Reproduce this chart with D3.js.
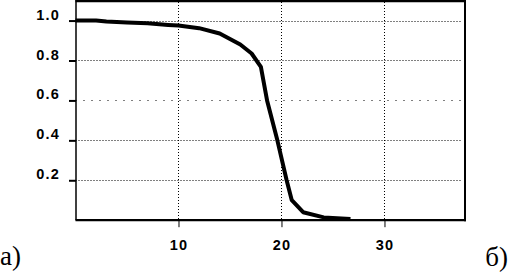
<!DOCTYPE html>
<html>
<head>
<meta charset="utf-8">
<script src="https://cdn.jsdelivr.net/npm/d3@7"></script>
<style>
  html, body { margin: 0; padding: 0; background: #fff; }
  svg { display: block; }
</style>
</head>
<body>
<svg id="chart" width="508" height="273"></svg>
<script>
// ---- data ----
const xValues = [0, 2, 3, 5, 7, 9, 10, 12, 14, 16, 17.1, 18.0, 18.6, 19.6, 20.5, 21.0, 22.1, 24.1, 26.7];
const yValues = [1.0, 1.0, 0.995, 0.99, 0.986, 0.978, 0.975, 0.962, 0.935, 0.88, 0.835, 0.768, 0.6, 0.4, 0.2, 0.10, 0.04, 0.014, 0.006];
const xTicks = [10, 20, 30];
const yTicks = [0.2, 0.4, 0.6, 0.8, 1.0];
const yTickLabels = ["0.2", "0.4", "0.6", "0.8", "1.0"];
const panelLabels = ["а)", "б)"];

// ---- layout ----
const svg = d3.select("#chart");
const x = d3.scaleLinear().domain([0, 37.77]).range([75.5, 464.5]);
const y = d3.scaleLinear().domain([0, 1.1]).range([220.2, 0.6]);

const X0 = x.range()[0], X1 = x.range()[1];
const Y0 = y.range()[0];

// grid
const grid = svg.append("g").attr("stroke", "#000").attr("stroke-width", 1);
grid.selectAll("line.h").data(yTicks).enter().append("line")
  .attr("x1", X0).attr("x2", X1 - 2)
  .attr("y1", d => Math.round(y(d)) + 0.5).attr("y2", d => Math.round(y(d)) + 0.5)
  .attr("stroke-dasharray", d => d === 0.6 ? "1,7" : "1,2");
grid.selectAll("line.v").data(xTicks).enter().append("line")
  .attr("x1", d => Math.round(x(d)) + 0.5).attr("x2", d => Math.round(x(d)) + 0.5)
  .attr("y1", 2).attr("y2", Y0)
  .attr("stroke-dasharray", "1,2");

// axes
const yAxis = d3.axisLeft(y).tickValues(yTicks).tickSize(7).tickPadding(9)
  .tickFormat((d, i) => yTickLabels[i]);
const gy = svg.append("g").attr("transform", `translate(${X0 + 0.5},0)`).call(yAxis);
gy.select(".domain").remove();
gy.selectAll(".tick line").attr("stroke-width", 2);
gy.selectAll(".tick text").attr("dy", "-0.1em");

const xAxis = d3.axisBottom(x).tickValues(xTicks).tickSize(7).tickPadding(13)
  .tickFormat(d3.format("d"));
const gx = svg.append("g").attr("transform", `translate(0,${Y0})`).call(xAxis);
gx.select(".domain").remove();

svg.selectAll(".tick text")
  .attr("font-family", "'Liberation Sans', Arial, sans-serif")
  .attr("font-weight", "bold")
  .attr("font-size", 14.5)
  .attr("letter-spacing", "1.2px")
  .attr("fill", "#000");

// frame
const frame = svg.append("g").attr("stroke", "#000").attr("fill", "none");
frame.append("line").attr("x1", X0).attr("x2", X1 + 1.5).attr("y1", 1).attr("y2", 1).attr("stroke-width", 2.5);
frame.append("line").attr("x1", 76).attr("x2", 76).attr("y1", 0).attr("y2", Y0).attr("stroke-width", 1.5);
frame.append("line").attr("x1", X1 + 0.5).attr("x2", X1 + 0.5).attr("y1", 0).attr("y2", Y0 + 1).attr("stroke-width", 2);
frame.append("line").attr("x1", X0).attr("x2", X1 + 1.5).attr("y1", Y0).attr("y2", Y0).attr("stroke-width", 2.2);

// curve
const pts = xValues.map((v, i) => [v, yValues[i]]);
svg.append("path")
  .datum(pts)
  .attr("fill", "none")
  .attr("stroke", "#000")
  .attr("stroke-width", 4)
  .attr("stroke-linejoin", "round")
  .attr("d", d3.line().x(d => x(d[0])).y(d => y(d[1])));

// panel labels
svg.append("text").attr("x", 0).attr("y", 265)
  .attr("font-family", "'Liberation Serif', 'Times New Roman', serif")
  .attr("font-size", 27).attr("fill", "#000").text(panelLabels[0]);
svg.append("text").attr("x", 508).attr("y", 266).attr("text-anchor", "end")
  .attr("font-family", "'Liberation Serif', 'Times New Roman', serif")
  .attr("font-size", 27).attr("fill", "#000").text(panelLabels[1]);
</script>
</body>
</html>
